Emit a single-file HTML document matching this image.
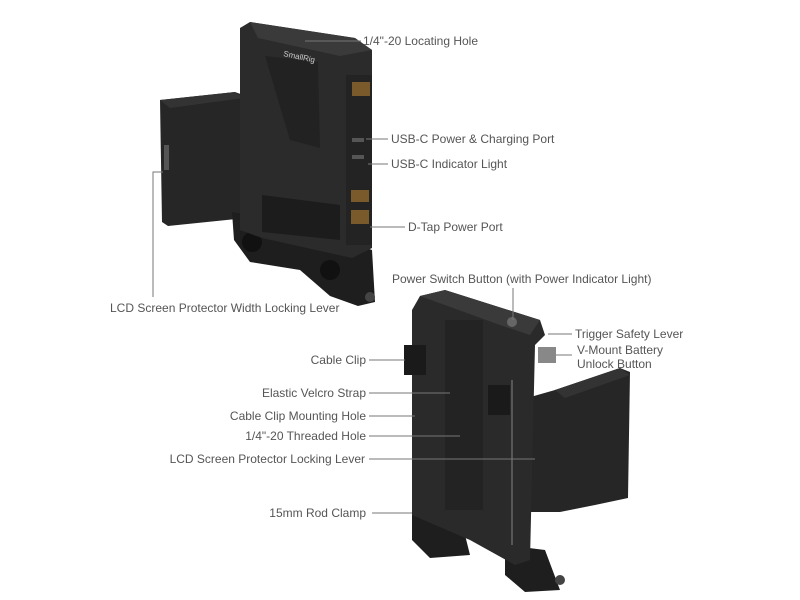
<!DOCTYPE html>
<html><head><meta charset="utf-8"><style>
html,body{margin:0;padding:0;background:#fff;}
svg{display:block;}
text{font-family:"Liberation Sans",sans-serif;font-size:12px;fill:#555;}
</style></head><body>
<svg width="800" height="600" viewBox="0 0 800 600" xmlns="http://www.w3.org/2000/svg">
<!-- TOP DEVICE -->
<g>
 <!-- screen panel -->
 <polygon points="160,100 235,92 246,96 246,218 168,226 162,222" fill="#262626"/>
 <polygon points="160,100 235,92 244,98 170,108" fill="#333"/>
 <rect x="164" y="145" width="5" height="25" fill="#555"/>
 <!-- rod clamps -->
 <polygon points="232,212 300,224 372,250 375,302 358,306 330,296 300,270 250,262 234,240" fill="#1e1e1e"/>
 <circle cx="252" cy="242" r="10" fill="#111"/>
 <circle cx="330" cy="270" r="10" fill="#111"/>
 <circle cx="370" cy="297" r="5" fill="#444"/>
 <!-- body -->
 <polygon points="240,28 250,22 355,38 372,50 372,248 352,258 262,238 240,230" fill="#2b2b2b"/>
 <polygon points="250,22 355,38 372,50 340,56 258,38" fill="#3a3a3a"/>
 <polygon points="265,56 318,62 320,148 290,140" fill="#222"/>
 <polygon points="262,195 340,205 340,240 262,232" fill="#1c1c1c"/>
 <!-- side port strip -->
 <rect x="346" y="75" width="26" height="170" fill="#232323"/>
 <rect x="352" y="82" width="18" height="14" fill="#7a5a2a"/>
 <rect x="351" y="210" width="18" height="14" fill="#7a5a2a"/>
 <rect x="351" y="190" width="18" height="12" fill="#7a5a2a"/>
 <rect x="352" y="138" width="12" height="4" fill="#555"/>
 <rect x="352" y="155" width="12" height="4" fill="#555"/>
 <text x="283" y="56" style="font-size:8px;fill:#ccc" transform="rotate(12 283 56)">SmallRig</text>
</g>
<!-- BOTTOM DEVICE -->
<g>
 <!-- screen panel -->
 <polygon points="520,400 555,390 620,368 630,372 628,498 595,505 560,512 520,512" fill="#262626"/>
 <polygon points="555,390 620,368 630,375 565,398" fill="#333"/>
 <!-- rod clamps -->
 <polygon points="412,505 460,515 470,555 430,558 412,540" fill="#1e1e1e"/>
 <polygon points="505,545 545,550 560,590 525,592 505,575" fill="#1e1e1e"/>
 <circle cx="560" cy="580" r="5" fill="#444"/>
 <!-- body -->
 <polygon points="412,310 420,296 445,290 540,320 545,335 535,345 530,560 515,565 470,540 412,515" fill="#2a2a2a"/>
 <polygon points="420,296 445,290 540,320 530,335 500,325" fill="#3a3a3a"/>
 <rect x="445" y="320" width="38" height="190" fill="#232323"/>
 <line x1="512" y1="380" x2="512" y2="545" stroke="#666" stroke-width="1.5"/>
 <!-- clips -->
 <rect x="404" y="345" width="22" height="30" fill="#1a1a1a"/>
 <rect x="488" y="385" width="22" height="30" fill="#1a1a1a"/>
 <rect x="538" y="347" width="18" height="16" fill="#888"/>
 <circle cx="512" cy="322" r="5" fill="#666"/>
</g>
<!-- LEADER LINES -->
<g stroke="#777" stroke-width="1" fill="none">
 <line x1="305" y1="41" x2="361" y2="41"/>
 <line x1="366" y1="139" x2="388" y2="139"/>
 <line x1="368" y1="164" x2="388" y2="164"/>
 <line x1="370" y1="227" x2="405" y2="227"/>
 <polyline points="163,172 153,172 153,297"/>
 <line x1="513" y1="288" x2="513" y2="320"/>
 <line x1="548" y1="334" x2="572" y2="334"/>
 <line x1="556" y1="355" x2="572" y2="355"/>
 <line x1="369" y1="360" x2="405" y2="360"/>
 <line x1="369" y1="393" x2="450" y2="393"/>
 <line x1="369" y1="416" x2="415" y2="416"/>
 <line x1="369" y1="436" x2="460" y2="436"/>
 <line x1="369" y1="459" x2="535" y2="459"/>
 <line x1="372" y1="513" x2="412" y2="513"/>
</g>
<!-- LABELS -->
<text x="363" y="45">1/4"-20 Locating Hole</text>
<text x="391" y="143">USB-C Power &amp; Charging Port</text>
<text x="391" y="168">USB-C Indicator Light</text>
<text x="408" y="231">D-Tap Power Port</text>
<text x="110" y="312">LCD Screen Protector Width Locking Lever</text>
<text x="392" y="283">Power Switch Button (with Power Indicator Light)</text>
<text x="575" y="338">Trigger Safety Lever</text>
<text x="577" y="354">V-Mount Battery</text>
<text x="577" y="368">Unlock Button</text>
<g text-anchor="end">
<text x="366" y="364">Cable Clip</text>
<text x="366" y="397">Elastic Velcro Strap</text>
<text x="366" y="420">Cable Clip Mounting Hole</text>
<text x="366" y="440">1/4"-20 Threaded Hole</text>
<text x="365" y="463">LCD Screen Protector Locking Lever</text>
<text x="366" y="517">15mm Rod Clamp</text>
</g>
</svg>
</body></html>
